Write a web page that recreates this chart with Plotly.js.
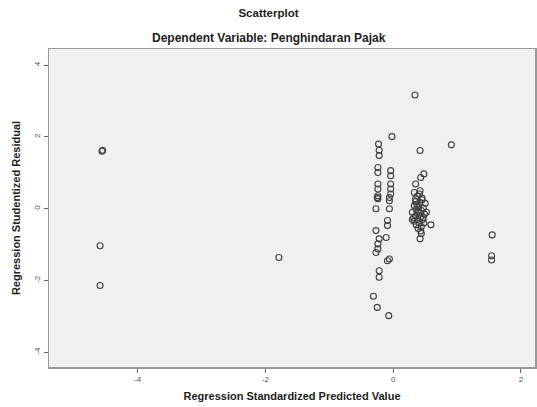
<!DOCTYPE html>
<html>
<head>
<meta charset="utf-8">
<script src="https://cdn.plot.ly/plotly-3.0.1.min.js"></script>
<style>html,body{margin:0;padding:0;background:#fff;}#chart{width:537px;height:407px;}</style>
</head>
<body>
<div id="chart"></div>
<script>
// Regression Standardized Predicted Value
const predicted = [
  -4.55, -4.56, -4.59, -4.59,
  -1.79,
  1.55, 1.54, 1.54, 0.91,
  0.34,
  -0.23, -0.22, -0.22, -0.24, -0.24, -0.24, -0.24, -0.24, -0.24, -0.25,
  -0.27, -0.27, -0.22, -0.24, -0.24, -0.27, -0.22, -0.22, -0.31, -0.25,
  -0.02, -0.04, -0.04, -0.04, -0.04, -0.04, -0.06, -0.06, -0.06, -0.09,
  -0.09, -0.11, -0.06, -0.09, -0.07,
  0.42, 0.48, 0.43, 0.35, 0.41, 0.35,
  0.33, 0.42, 0.38, 0.45, 0.35, 0.42, 0.50, 0.33, 0.40, 0.47,
  0.36, 0.44, 0.30, 0.40, 0.49, 0.35, 0.43, 0.38, 0.46, 0.33,
  0.41, 0.48, 0.36, 0.44, 0.30, 0.52, 0.39,
  0.59, 0.44, 0.42, 0.43,
  0.37, 0.45, 0.32, 0.47, 0.39
];
// Regression Studentized Residual
const residual = [
  1.63, 1.60, -1.03, -2.14,
  -1.36,
  -0.73, -1.31, -1.43, 1.78,
  3.17,
  1.80, 1.63, 1.48, 1.15, 1.01, 0.69, 0.55, 0.36, 0.28, 0.31,
  0.00, -0.61, -0.84, -0.98, -1.12, -1.22, -1.73, -1.91, -2.44, -2.75,
  2.01, 1.06, 0.92, 0.69, 0.55, 0.41, 0.31, 0.22, 0.00, -0.33,
  -0.47, -0.80, -1.40, -1.45, -2.98,
  1.62, 0.97, 0.87, 0.69, 0.41, 0.27,
  0.45, 0.50, 0.35, 0.30, 0.20, 0.18, 0.15, 0.08, 0.05, 0.02,
  -0.02, -0.05, -0.10, -0.12, -0.15, -0.20, -0.22, -0.30, -0.30, -0.35,
  -0.40, -0.40, -0.45, -0.50, -0.30, -0.10, -0.55,
  -0.45, -0.69, -0.84, -0.62,
  0.12, 0.25, -0.25, -0.25, -0.08
];
const xTicks = [-4, -2, 0, 2];
const yTicks = [-4, -2, 0, 2, 4];

const font = "Liberation Sans, Arial, sans-serif";

Plotly.newPlot('chart', [{
  type: 'scatter',
  mode: 'markers',
  x: predicted,
  y: residual,
  marker: {symbol: 'circle-open', size: 6, color: '#404040', line: {width: 1.1, color: '#404040'}},
  hoverinfo: 'skip'
}], {
  width: 537, height: 407,
  margin: {l: 49, r: 2, t: 49, b: 40},
  paper_bgcolor: '#ffffff',
  plot_bgcolor: '#f0f0f0',
  showlegend: false,
  font: {family: font, color: '#222'},
  title: {text: '<b>Scatterplot</b>', x: 0.5, xref: 'container', xanchor: 'center', y: 0.968, yanchor: 'middle', font: {size: 11.5, family: font, color: '#222'}},
  annotations: [{
    text: '<b>Dependent Variable: Penghindaran Pajak</b>',
    xref: 'paper', yref: 'paper', x: (268.5 - 49) / 486, y: (407 - 38 - 40) / 318,
    xanchor: 'center', yanchor: 'middle', showarrow: false,
    font: {size: 12, family: font, color: '#222'}
  }],
  xaxis: {
    range: [-5.39, 2.22],
    tickvals: xTicks, ticktext: xTicks.map(String),
    ticks: 'outside', ticklen: 4, tickcolor: '#666', tickwidth: 1,
    tickfont: {size: 8, color: '#555', family: font},
    showgrid: false, zeroline: false,
    showline: true, linecolor: '#999', linewidth: 1.5, mirror: true,
    title: {text: '<b>Regression Standardized Predicted Value</b>', font: {size: 11, family: font, color: '#222'}, standoff: 9}
  },
  yaxis: {
    range: [-4.41, 4.45],
    tickvals: yTicks, ticktext: yTicks.map(String),
    tickangle: -90,
    ticks: 'outside', ticklen: 4, tickcolor: '#666', tickwidth: 1,
    tickfont: {size: 8, color: '#555', family: font},
    showgrid: false, zeroline: false,
    showline: true, linecolor: '#999', linewidth: 1.5, mirror: true,
    title: {text: '<b>Regression Studentized Residual</b>', font: {size: 11, family: font, color: '#222'}, standoff: 10}
  }
}, {displayModeBar: false, staticPlot: true});
</script>
</body>
</html>
